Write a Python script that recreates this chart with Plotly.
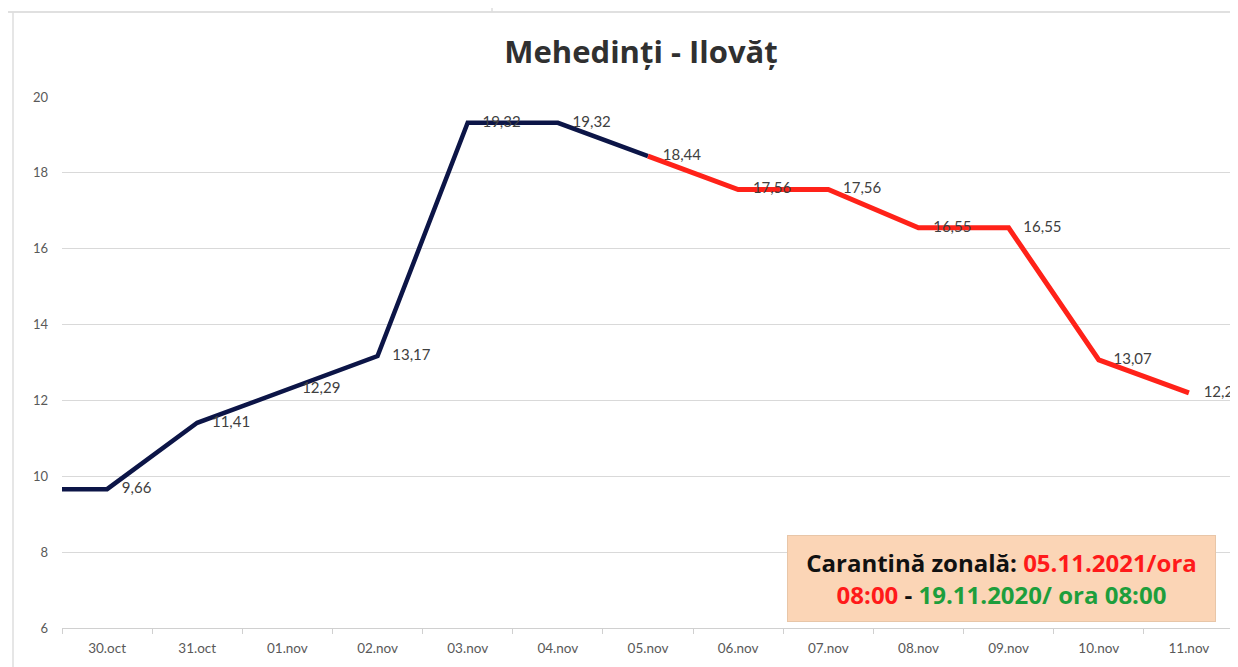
import plotly.graph_objects as go

categories = ["30.oct", "31.oct", "01.nov", "02.nov", "03.nov", "04.nov", "05.nov",
              "06.nov", "07.nov", "08.nov", "09.nov", "10.nov", "11.nov"]
values = [9.66, 11.41, 12.29, 13.17, 19.32, 19.32, 18.44, 17.56, 17.56, 16.55, 16.55, 13.07, 12.2]
quarantine_start = 6  # index of 05.nov
y_ticks = [6, 8, 10, 12, 14, 16, 18, 20]

W, H = 1238, 667
OFF = 8  # page body margin
# screen-pixel plot area: x 62..1236, y 97..628
L, T = 62 - OFF, 97 - OFF
R = W - (1234 - OFF)
B = H - (628 - OFF)

idx = list(range(len(categories)))
x_left = -0.5
labels = [f"{v:.2f}".replace(".", ",") for v in values]
labels[-1] = "12,2"

navy = "#0c1547"
red = "#ff2219"

fig = go.Figure()
nx = [x_left] + idx[:quarantine_start + 1]
ny = [values[0]] + values[:quarantine_start + 1]
fig.add_trace(go.Scatter(x=nx, y=ny, mode="lines", line=dict(color=navy, width=4.5),
                         hoverinfo="skip", showlegend=False))
fig.add_trace(go.Scatter(x=idx[quarantine_start:], y=values[quarantine_start:], mode="lines",
                         line=dict(color=red, width=5), hoverinfo="skip", showlegend=False))
fig.add_trace(go.Scatter(x=idx, y=values, mode="markers+text", text=labels,
                         marker=dict(size=22, color="rgba(0,0,0,0)"),
                         textposition="middle right",
                         textfont=dict(family="Lato, Open Sans, sans-serif", size=15, color="#404040"),
                         hoverinfo="skip", showlegend=False))

def px2paper_x(px):
    return (px - OFF - L) / (W - L - R)

def px2paper_y(py):
    return (H - B - (py - OFF)) / (H - T - B)

fig.update_layout(
    width=W, height=H,
    margin=dict(l=L, r=R, t=T, b=B),
    paper_bgcolor="white", plot_bgcolor="white",
    font=dict(family="Lato, Open Sans, sans-serif", color="#595959"),
    title=dict(text="<b>Mehedinți - Ilovăț</b>", x=(641 - OFF) / W, xanchor="center",
               y=1 - (52 - OFF) / H, yanchor="middle", yref="container",
               font=dict(size=31, color="#303030", family="Open Sans, Lato, sans-serif")),
    xaxis=dict(range=[x_left, len(categories) - 0.5], tickvals=idx, ticktext=categories,
               showgrid=False, zeroline=False, showline=True, linecolor="#d0d0d0", linewidth=1,
               ticks="", tickfont=dict(size=13.5, color="#595959"), ticklabelstandoff=8,
               minor=dict(ticks="outside", tick0=-0.5, dtick=1, ticklen=5, tickcolor="#d0d0d0",
                          showgrid=False)),
    yaxis=dict(range=[6, 20], tickvals=y_ticks, showgrid=True, gridcolor="#d9d9d9", gridwidth=1,
               zeroline=False, showline=False, ticks="", tickfont=dict(size=13, color="#595959"),
               ticklabelstandoff=13),
    annotations=[dict(
        xref="paper", yref="paper", x=px2paper_x(1001), y=px2paper_y(578),
        xanchor="center", yanchor="middle", showarrow=False,
        text=("<b><span style='color:#111111'>Carantină zonală: </span>"
              "<span style='color:#ff1a1a'>05.11.2021/ora</span><br>"
              "<span style='color:#ff1a1a'>08:00</span>"
              "<span style='color:#111111'> - </span>"
              "<span style='color:#1e9e3c'>19.11.2020/ ora 08:00</span></b>"),
        font=dict(family="Open Sans, Lato, sans-serif", size=24),
        bgcolor="#fbd5b6", bordercolor="#e8c6a8", borderwidth=1,
        width=425, height=83, align="center")],
    shapes=[
        dict(type="line", xref="paper", yref="paper", x0=px2paper_x(0), x1=px2paper_x(W + OFF),
             y0=px2paper_y(12), y1=px2paper_y(12), line=dict(color="#d6d6d6", width=1.5)),
        dict(type="line", xref="paper", yref="paper", x0=px2paper_x(13), x1=px2paper_x(13),
             y0=px2paper_y(12), y1=px2paper_y(H + OFF), line=dict(color="#dedede", width=1.5)),
        dict(type="line", xref="paper", yref="paper", x0=px2paper_x(492), x1=px2paper_x(492),
             y0=px2paper_y(OFF), y1=px2paper_y(12), line=dict(color="#dedede", width=1.5)),
    ],
)

fig.write_html("out.html")
